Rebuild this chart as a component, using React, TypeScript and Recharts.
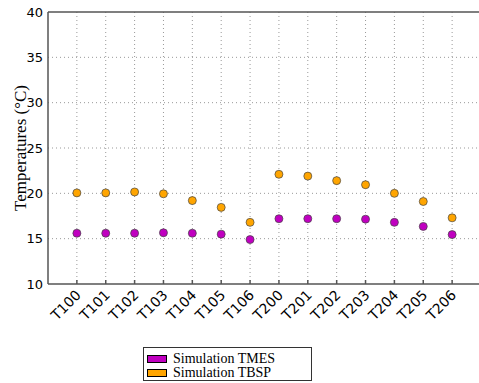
import React from "react";
import { ScatterChart, Scatter, XAxis, YAxis, CartesianGrid, ReferenceLine } from "recharts";

const categories = ["T100","T101","T102","T103","T104","T105","T106","T200","T201","T202","T203","T204","T205","T206"];
const tmes = [15.6, 15.6, 15.6, 15.65, 15.6, 15.5, 14.9, 17.2, 17.2, 17.2, 17.15, 16.8, 16.35, 15.45];
const tbsp = [20.05, 20.05, 20.15, 19.95, 19.2, 18.45, 16.8, 22.1, 21.9, 21.4, 20.95, 20.0, 19.1, 17.3];
const yTicks = [10, 15, 20, 25, 30, 35, 40];

const tmesData = tmes.map((v, i) => ({ x: i, y: v }));
const tbspData = tbsp.map((v, i) => ({ x: i, y: v }));

const MAG = "#c000c0";
const ORA = "#ffa500";

const XTick = (props: any) => {
  const { x, y, payload } = props;
  return (
    <text
      x={0}
      y={0}
      transform={`translate(${x + 5},${y + 14}) rotate(-45)`}
      textAnchor="end"
      fontSize={14}
      fontFamily="DejaVu Sans"
      fill="#000"
    >
      {categories[payload.value]}
    </text>
  );
};

const Dot = (props: any) => {
  const { cx, cy, fill } = props;
  return <circle cx={cx} cy={cy} r={4} fill={fill} stroke="#444" strokeWidth={0.7} />;
};

export default function App() {
  return (
    <div style={{ position: "absolute", left: 0, top: 0, width: 479, height: 383, overflow: "hidden", background: "#fff" }}>
      <ScatterChart width={483} height={383} margin={{ top: 12, right: 2, bottom: 83, left: 0 }}>
        <CartesianGrid stroke="#999" strokeDasharray="1 3" horizontalValues={[15, 20, 25, 30, 35]} verticalValues={categories.map((_, i) => i)} />
        <XAxis
          type="number"
          dataKey="x"
          domain={[-1, 14]}
          ticks={categories.map((_, i) => i)}
          tick={<XTick />}
          stroke="#555"
          strokeWidth={1.5}
          tickLine={{ stroke: "#555" }}
          tickSize={-4}
          height={16}
          interval={0}
          allowDataOverflow
        />
        <YAxis
          type="number"
          dataKey="y"
          domain={[10, 40]}
          ticks={yTicks}
          width={48}
          stroke="#555"
          strokeWidth={1.5}
          tickSize={0}
          tickMargin={5}
          tick={{ fontSize: 13, fontFamily: "DejaVu Sans", fill: "#000" }}
          label={{ value: "Temperatures (°C)", angle: -90, position: "insideLeft", offset: 20, style: { fontFamily: "Liberation Serif", fontSize: 17, fill: "#000", textAnchor: "middle" } }}
        />
        <ReferenceLine y={40} stroke="#555" strokeWidth={1.5} />
        <Scatter data={tbspData} fill={ORA} shape={<Dot />} isAnimationActive={false} />
        <Scatter data={tmesData} fill={MAG} shape={<Dot />} isAnimationActive={false} />
      </ScatterChart>
      <div style={{ position: "absolute", left: 143, top: 347, width: 169, height: 34, border: "1px solid #333", fontFamily: "Liberation Serif", fontSize: 14, lineHeight: "14px", boxSizing: "border-box", padding: "4px 0 0 3px" }}>
        {[{ name: "Simulation TMES", color: MAG }, { name: "Simulation TBSP", color: ORA }].map((e) => (
          <div key={e.name} style={{ display: "flex", alignItems: "center", height: 14 }}>
            <span style={{ display: "inline-block", width: 18, height: 6, background: e.color, border: "1px solid #000", marginRight: 6 }} />
            <span>{e.name}</span>
          </div>
        ))}
      </div>
    </div>
  );
}
